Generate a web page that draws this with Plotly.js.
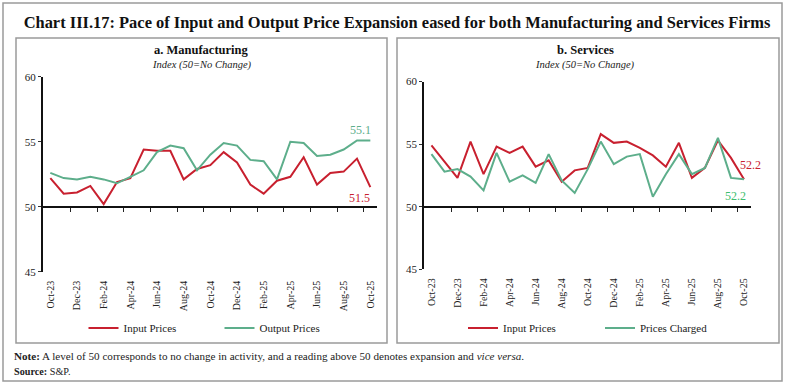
<!DOCTYPE html>
<html>
<head>
<meta charset="utf-8">
<script src="https://cdn.plot.ly/plotly-3.0.1.min.js"></script>
<style>html,body{margin:0;padding:0;background:#fff;}#chart{width:785px;height:384px;}</style>
</head>
<body>
<div id="chart"></div>
<script>
const months = ['Oct-23','Nov-23','Dec-23','Jan-24','Feb-24','Mar-24','Apr-24','May-24','Jun-24','Jul-24','Aug-24','Sep-24','Oct-24','Nov-24','Dec-24','Jan-25','Feb-25','Mar-25','Apr-25','May-25','Jun-25','Jul-25','Aug-25','Sep-25','Oct-25'];
const mfgInput   = [52.2,51.0,51.1,51.6,50.2,51.9,52.2,54.4,54.3,54.3,52.1,52.9,53.2,54.2,53.4,51.7,51.0,52.0,52.3,53.8,51.7,52.6,52.7,53.7,51.5];
const mfgOutput  = [52.6,52.2,52.1,52.3,52.1,51.8,52.3,52.8,54.2,54.7,54.5,52.8,54.0,54.9,54.7,53.6,53.5,52.1,55.0,54.9,53.9,54.0,54.4,55.1,55.1];
const svcInput   = [54.9,53.6,52.3,55.2,52.6,54.8,54.3,54.8,53.2,53.7,52.0,52.9,53.1,55.8,55.1,55.2,54.7,54.1,53.2,55.1,52.3,53.1,55.3,53.9,52.2];
const svcCharged = [54.2,52.8,53.0,52.4,51.3,54.3,52.0,52.5,51.9,54.2,52.1,51.1,53.0,55.2,53.4,54.0,54.2,50.8,52.6,54.2,52.6,53.1,55.5,52.3,52.2];
const tickLabels = months.filter((m,i)=>i%2===0);
const panelTitles = ['a. Manufacturing','b. Services'];
const subTitle = 'Index (50=No Change)';
const yTicks = [45,50,55,60];

const RED = '#C8202F', GREEN = '#5DAE8B';
const SERIF = 'Liberation Serif';
const W = 785, H = 384;
const px = v => v / W;
const py = v => (H - v) / H;
const betweenTicks = months.map((m,i)=>i+0.5).filter((v,i)=>i%2===1);
const last = months.length - 1;

const traces = [
  {x: months, y: mfgInput, xaxis:'x', yaxis:'y', type:'scatter', mode:'lines', name:'Input Prices', line:{color:RED,width:2}, legend:'legend'},
  {x: months, y: mfgOutput, xaxis:'x', yaxis:'y', type:'scatter', mode:'lines', name:'Output Prices', line:{color:GREEN,width:2}, legend:'legend'},
  {x: months, y: svcInput, xaxis:'x2', yaxis:'y2', type:'scatter', mode:'lines', name:'Input Prices', line:{color:RED,width:2}, legend:'legend2'},
  {x: months, y: svcCharged, xaxis:'x2', yaxis:'y2', type:'scatter', mode:'lines', name:'Prices Charged', line:{color:GREEN,width:2}, legend:'legend2'},
  {x: [], y: [], xaxis:'x3', yaxis:'y', type:'scatter', mode:'lines', showlegend:false, hoverinfo:'skip'},
  {x: [], y: [], xaxis:'x4', yaxis:'y2', type:'scatter', mode:'lines', showlegend:false, hoverinfo:'skip'}
];

const xRange = [-0.55, 24.5];
function labelAxis(dom, anchor){
  return {domain: dom, anchor: anchor, type:'category', range: xRange, tickmode:'array', tickvals: tickLabels, ticktext: tickLabels,
    tickangle:-90, ticks:'', showline:false, showgrid:false, zeroline:false, ticklabelstandoff:6,
    tickfont:{family:SERIF, size:10, color:'#222'}, fixedrange:true};
}
function lineAxis(over, pos){
  return {overlaying: over, anchor:'free', position: pos, type:'linear', range: xRange, tickmode:'array', tickvals: betweenTicks,
    showticklabels:false, ticks:'outside', ticklen:4, tickwidth:1, tickcolor:'#222', showline:true, linecolor:'#111', linewidth:2,
    showgrid:false, zeroline:false, fixedrange:true};
}
function yAxis(dom, anchor){
  return {domain: dom, anchor: anchor, range:[45,60], tickmode:'array', tickvals: yTicks, ticks:'outside', ticklen:3, tickwidth:1, tickcolor:'#333',
    showline:true, linecolor:'#111', linewidth:2, showgrid:false, zeroline:false,
    tickfont:{family:SERIF, size:11, color:'#222'}, fixedrange:true};
}

const leftDomX = [px(43), px(377)], rightDomX = [px(424.3), px(750.5)];
const leftDomY = [py(271.7), py(76.7)], rightDomY = [py(269.3), py(81.5)];
const axisPos = py(206.7);

const annotations = [
  {xref:'paper', yref:'paper', x: px(201.5), y: py(50), xanchor:'center', yanchor:'middle', text:'<b>'+panelTitles[0]+'</b>', showarrow:false, font:{family:SERIF, size:12.5, color:'#111'}},
  {xref:'paper', yref:'paper', x: px(201.5), y: py(65.5), xanchor:'center', yanchor:'middle', text:'<i>'+subTitle+'</i>', showarrow:false, font:{family:SERIF, size:10.5, color:'#222'}},
  {xref:'paper', yref:'paper', x: px(585), y: py(50), xanchor:'center', yanchor:'middle', text:'<b>'+panelTitles[1]+'</b>', showarrow:false, font:{family:SERIF, size:12.5, color:'#111'}},
  {xref:'paper', yref:'paper', x: px(585), y: py(65.5), xanchor:'center', yanchor:'middle', text:'<i>'+subTitle+'</i>', showarrow:false, font:{family:SERIF, size:10.5, color:'#222'}},
  {xref:'x', yref:'y', x: months[last], y: mfgOutput[last], text: mfgOutput[last].toFixed(1), showarrow:false, xshift:-10, yshift:10, font:{family:SERIF, size:12, color:GREEN}},
  {xref:'x', yref:'y', x: months[last], y: mfgInput[last], text: mfgInput[last].toFixed(1), showarrow:false, xshift:-11, yshift:-11, font:{family:SERIF, size:12, color:RED}},
  {xref:'x2', yref:'y2', x: months[last], y: svcInput[last], text: svcInput[last].toFixed(1), showarrow:false, xshift:7, yshift:14, font:{family:SERIF, size:12, color:RED}},
  {xref:'x2', yref:'y2', x: months[last], y: svcCharged[last], text: svcCharged[last].toFixed(1), showarrow:false, xshift:-8, yshift:-17, font:{family:SERIF, size:12, color:'#3DBE6E'}},
  {xref:'paper', yref:'paper', x: px(12), y: py(356), xanchor:'left', yanchor:'middle', showarrow:false, align:'left',
    text:'<b>Note:</b> A level of 50 corresponds to no change in activity, and a reading above 50 denotes expansion and <i>vice versa</i>.', font:{family:SERIF, size:11.1, color:'#222'}},
  {xref:'paper', yref:'paper', x: px(12), y: py(371), xanchor:'left', yanchor:'middle', showarrow:false, align:'left',
    text:'<b>Source:</b> S&amp;P.', font:{family:SERIF, size:10.2, color:'#222'}}
];

const box = (x0,y0,x1,y1) => ({type:'rect', xref:'paper', yref:'paper', x0:px(x0), x1:px(x1), y0:py(y1), y1:py(y0), line:{color:'#9a9a9a', width:1.5}, fillcolor:'rgba(0,0,0,0)', layer:'below'});

const layout = {
  width: W, height: H, margin:{l:0,r:0,t:0,b:0}, paper_bgcolor:'#fff', plot_bgcolor:'rgba(0,0,0,0)',
  title:{text:'<b>Chart III.17: Pace of Input and Output Price Expansion eased for both Manufacturing and Services Firms</b>', x: px(397), xanchor:'center', xref:'paper', y: py(22), yref:'paper', yanchor:'middle', font:{family:SERIF, size:16.45, color:'#111'}},
  xaxis: labelAxis(leftDomX, 'y'),
  xaxis2: labelAxis(rightDomX, 'y2'),
  xaxis3: lineAxis('x', axisPos),
  xaxis4: lineAxis('x2', axisPos),
  yaxis: yAxis(leftDomY, 'x'),
  yaxis2: yAxis(rightDomY, 'x2'),
  showlegend: true,
  legend: {orientation:'h', x: px(83.5), y: py(328), xanchor:'left', yanchor:'middle', font:{family:SERIF, size:11, color:'#222'}, bgcolor:'rgba(0,0,0,0)', entrywidth:91, entrywidthmode:'pixels', itemclick:false},
  legend2: {orientation:'h', x: px(463), y: py(328), xanchor:'left', yanchor:'middle', font:{family:SERIF, size:11, color:'#222'}, bgcolor:'rgba(0,0,0,0)', entrywidth:92, entrywidthmode:'pixels', itemclick:false},
  annotations: annotations,
  shapes: [box(3,3,782,381), box(16,38,387,343), box(397,38,779,343)]
};

Plotly.newPlot('chart', traces, layout, {staticPlot:true, displayModeBar:false});
</script>
</body>
</html>
